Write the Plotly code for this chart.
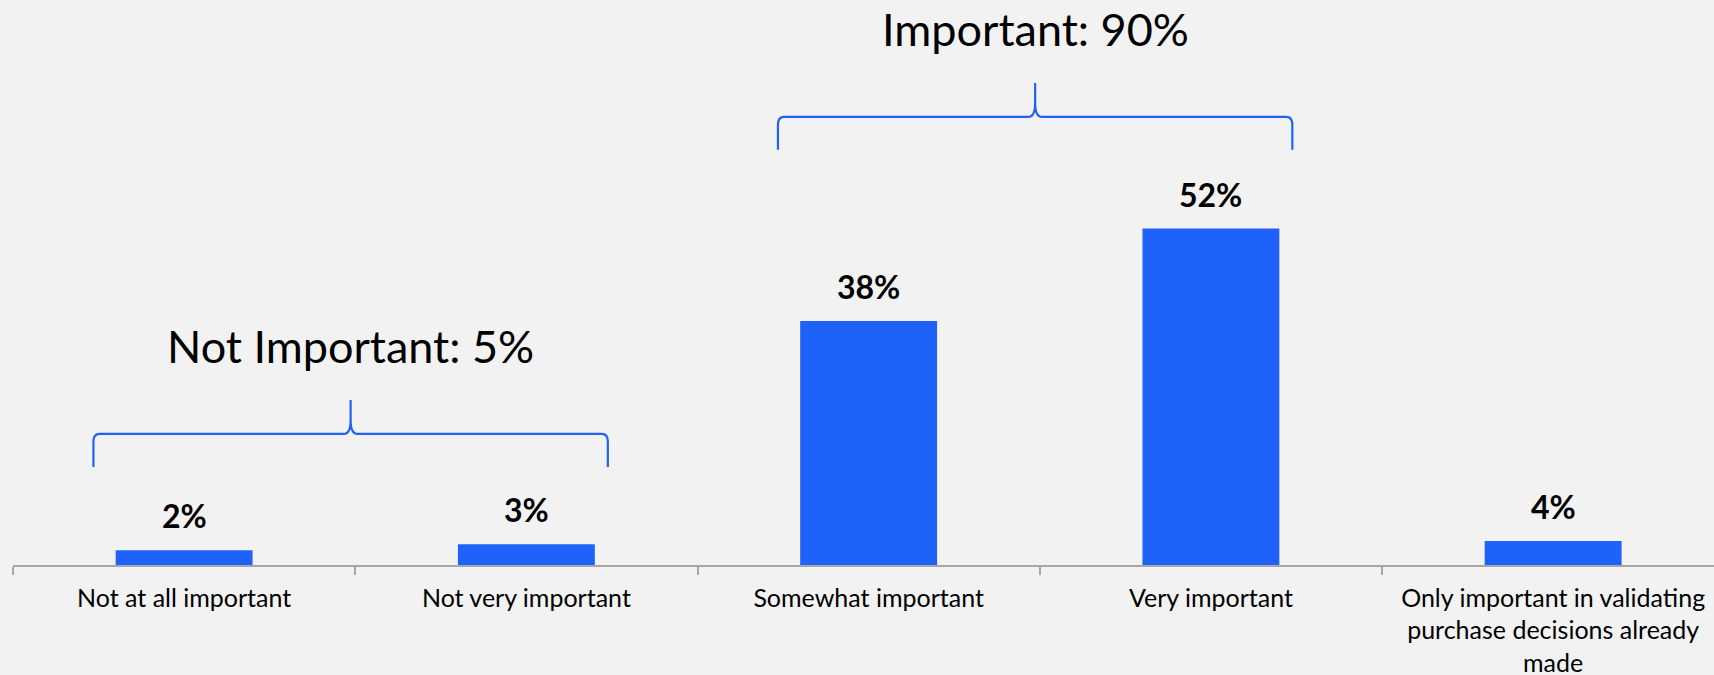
import plotly.graph_objects as go

# ---- data ----
categories = [
    "Not at all important",
    "Not very important",
    "Somewhat important",
    "Very important",
    "Only important in validating<br>purchase decisions already<br>made",
]
values = [2.3, 3.2, 37.8, 52.1, 3.7]
labels = [f"{round(v)}%" for v in values]

group_names = ["Not Important", "Important"]
group_members = [[0, 1], [2, 3]]
group_totals = [sum(round(values[i]) for i in m) for m in group_members]
group_bracket_y = [20.3, 69.4]      # height (in % units) of bracket bar

# ---- style ----
BG = "#f2f2f2"
BAR = "#1f62fa"
BRACE = "#2262f2"
FONT = "Lato"
PX_X = 342.1   # pixels per category
PX_Y = 6.46    # pixels per percent

x = list(range(len(categories)))

fig = go.Figure()
fig.add_trace(go.Bar(
    x=x, y=values, width=0.4,
    marker=dict(color=BAR, line=dict(width=0)),
    hoverinfo="skip",
))

# value labels
for xi, v, t in zip(x, values, labels):
    fig.add_annotation(x=xi, y=v, text=f"<b>{t}</b>", showarrow=False,
                       yanchor="bottom", yshift=13,
                       font=dict(family=FONT, size=32, color="#000000"))

# brackets + group labels
def brace_path(x0, x1, yh):
    xc = (x0 + x1) / 2
    y_end = yh - 33 / PX_Y
    y_peak = yh + 34 / PX_Y
    rx = 6 / PX_X
    ry = 8 / PX_Y
    cx = 7 / PX_X
    cy = 14 / PX_Y
    p = (f"M {x0},{y_end} L {x0},{yh - ry} Q {x0},{yh} {x0 + rx},{yh} "
         f"L {xc - cx},{yh} Q {xc},{yh} {xc},{yh + cy} L {xc},{y_peak} "
         f"L {xc},{yh + cy} Q {xc},{yh} {xc + cx},{yh} "
         f"L {x1 - rx},{yh} Q {x1},{yh} {x1},{yh - ry} L {x1},{y_end}")
    return p, xc, y_peak

for name, mem, tot, yh in zip(group_names, group_members, group_totals, group_bracket_y):
    x0 = mem[0] - 0.265
    x1 = mem[-1] + 0.238
    path, xc, y_peak = brace_path(x0, x1, yh)
    fig.add_shape(type="path", path=path, xref="x", yref="y",
                  line=dict(color=BRACE, width=2.2))
    fig.add_annotation(x=xc, y=y_peak, text=f"{name}: {tot}%", showarrow=False,
                       yanchor="bottom", yshift=25,
                       font=dict(family=FONT, size=45, color="#000000"))

boundaries = [i - 0.5 for i in range(len(categories) + 1)]

fig.update_layout(
    width=1714, height=675,
    margin=dict(l=13, r=0, t=0, b=110, autoexpand=False),
    paper_bgcolor=BG, plot_bgcolor=BG,
    showlegend=False,
    bargap=0.6,
    xaxis=dict(
        range=[-0.5, 4.47],
        tickmode="array", tickvals=x, ticktext=categories,
        ticks="", showgrid=False, zeroline=False,
        showline=True, linecolor="#a6a6a6", linewidth=1.5,
        tickfont=dict(family=FONT, size=25, color="#000000"),
        ticklabelstandoff=10,
        automargin=False,
        minor=dict(tickmode="array", tickvals=boundaries, ticks="outside",
                   ticklen=8, tickwidth=1.5, tickcolor="#a6a6a6", showgrid=False),
    ),
    yaxis=dict(range=[0, 87.5], visible=False),
)

fig.write_html(
    "out.html",
    config={"displayModeBar": False},
    post_script="document.body.style.margin='0';document.body.style.overflow='hidden';",
)
